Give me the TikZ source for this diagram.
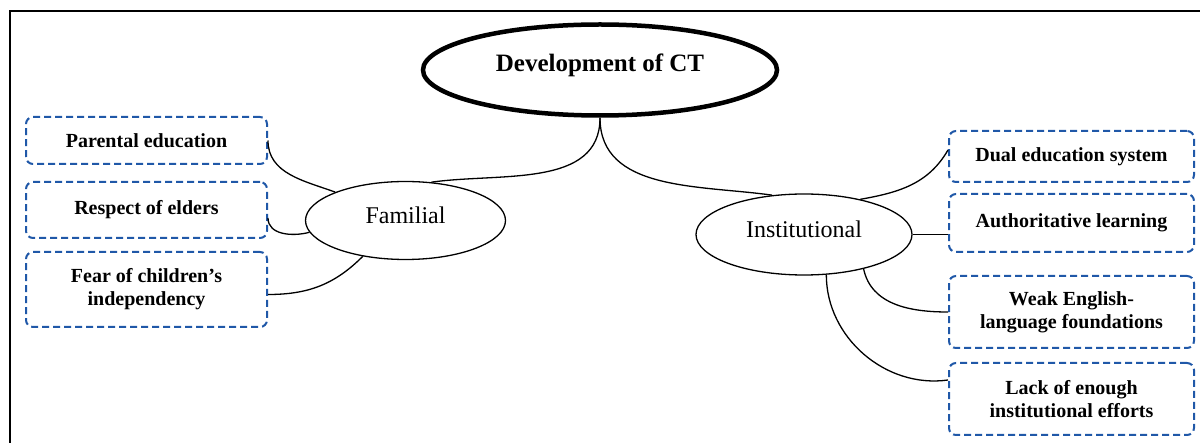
\documentclass[tikz,border=0pt]{standalone}
\usepackage{fontspec}
\setmainfont{Liberation Serif}
\usetikzlibrary{shapes.geometric}
\definecolor{boxblue}{RGB}{32,88,168}

\begin{document}
\begin{tikzpicture}[x=1pt,y=1pt,
    factor/.style={draw=boxblue, line width=2pt, dash pattern=on 7pt off 4pt,
        rounded corners=7pt, inner sep=0pt, align=center,
        font=\fontsize{20}{23}\selectfont\bfseries},
    topic/.style={ellipse, draw, line width=1.3pt, inner sep=0pt, text depth=10pt,
        font=\fontsize{24}{28}\selectfont},
    link/.style={line width=1.3pt}]
    \useasboundingbox (0,0) rectangle (1200,-443);
    % Frame
    \draw[line width=1.5pt] (10,-443) -- (10,-11) -- (1200,-11);
    % Main topic
    \node[ellipse, draw, line width=4.5pt, inner sep=0pt, minimum width=354pt,
        minimum height=91pt, text depth=14pt, font=\fontsize{25}{30}\selectfont\bfseries]
        (ct) at (600,-70) {Development of CT};
    % Two sides
    \node[topic, minimum width=200pt, minimum height=78pt] (familial) at (405.5,-220.5) {Familial};
    \node[topic, minimum width=216pt, minimum height=81pt] (institutional) at (804,-234.5) {Institutional};
    % Familial factors
    \node[factor, minimum width=241pt, minimum height=47pt] (parental) at (146.5,-140.5) {Parental education};
    \node[factor, minimum width=241pt, minimum height=56pt] (respect) at (146.5,-210) {Respect of elders};
    \node[factor, minimum width=241pt, minimum height=75pt] (fear) at (146.5,-289.5) {Fear of children’s\\independency};
    % Institutional factors
    \node[factor, minimum width=245pt, minimum height=51pt] (dual) at (1071.5,-156.5) {Dual education system};
    \node[factor, minimum width=245pt, minimum height=58pt] (authority) at (1071.5,-223) {Authoritative learning};
    \node[factor, minimum width=245pt, minimum height=72pt] (english) at (1071.5,-312) {Weak English-\\language foundations};
    \node[factor, minimum width=245pt, minimum height=72pt] (efforts) at (1071.5,-399) {Lack of enough\\institutional efforts};
    % Links from the main topic
    \draw[link] (ct.south) to[out=-90, in=8] (familial.56);
    \draw[link] (ct.south) to[out=-90, in=172] (institutional.129);
    % Links on the left
    \draw[link] (parental.east) to[out=-90, in=160] (familial.158);
    \draw[link] ([yshift=-8pt]respect.east) to[out=-90, in=195] (familial.187);
    \draw[link] ([yshift=-5pt]fear.east) to[out=0, in=225] (familial.220);
    % Links on the right
    \draw[link] (institutional.32) to[out=10, in=-120] ([yshift=6.5pt]dual.west);
    \draw[link] (institutional.east) -- (institutional.east -| authority.west);
    \draw[link] (institutional.-30) to[out=-78, in=180] (english.west);
    \draw[link] (institutional.-61) to[out=-90, in=188] ([yshift=19pt]efforts.west);
\end{tikzpicture}
\end{document}
